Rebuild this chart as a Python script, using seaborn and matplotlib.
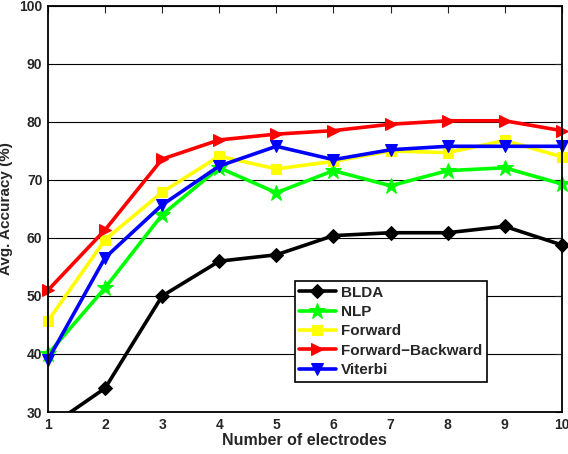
import numpy as np
import pandas as pd
import seaborn as sns
from matplotlib import pyplot as plt
from matplotlib.patches import Rectangle

sns.set_style('white')
plt.rcParams['font.family'] = ['Liberation Sans', 'DejaVu Sans']
plt.rcParams['font.weight'] = 'bold'

# data
electrodes = [1, 2, 3, 4, 5, 6, 7, 8, 9, 10]
blda = [27.3, 34.1, 50.0, 56.0, 57.1, 60.4, 60.9, 60.9, 62.0, 58.8]
nlp = [40.0, 51.4, 64.0, 72.1, 67.8, 71.6, 69.0, 71.6, 72.1, 69.3]
forward = [45.7, 59.7, 67.9, 74.1, 71.9, 73.2, 75.0, 74.7, 76.8, 74.0]
fwd_bwd = [51.0, 61.4, 73.6, 76.9, 77.9, 78.5, 79.6, 80.2, 80.2, 78.5]
viterbi = [39.0, 56.6, 65.7, 72.4, 75.8, 73.5, 75.2, 75.8, 75.8, 75.8]

names = ['BLDA', 'NLP', 'Forward', 'Forward\u2212Backward', 'Viterbi']
series = [blda, nlp, forward, fwd_bwd, viterbi]
colors = ['black', '#00ff00', '#ffff00', '#ff0000', '#0000ff']
markers = ['D', '*', 's', '>', 'v']
msizes = [7, 12, 7, 9, 9]

fig = plt.figure(figsize=(5.68, 4.54), dpi=100)
ax = fig.add_axes([0.0845, 0.0925, 0.9045, 0.8945])

clip = Rectangle((-0.05, 0.0), 1.1, 1.05, transform=ax.transAxes, fill=False, visible=False)
ax.add_patch(clip)

for name, vals, c, m, ms in zip(names, series, colors, markers, msizes):
    df = pd.DataFrame({'x': electrodes, 'y': vals})
    sns.lineplot(data=df, x='x', y='y', ax=ax, color=c, marker=m, markersize=ms,
                 markeredgecolor=c, linewidth=2.6, label=name)
    ax.lines[-1].set_clip_path(clip)

ax.set_xlim(1, 10)
ax.set_ylim(30, 100)
ax.set_xticks(electrodes)
ax.set_yticks(np.arange(30, 101, 10))
ax.yaxis.grid(True, color='black', linewidth=0.8)
ax.tick_params(direction='in', top=True, right=True, length=5, labelsize=10, pad=4)
for s in ax.spines.values():
    s.set_color('black')
    s.set_linewidth(1.3)

ax.set_xlabel('Number of electrodes', fontsize=11.5, fontweight='bold', labelpad=1)
ax.set_ylabel('Avg. Accuracy (%)', fontsize=11, fontweight='bold')
ax.yaxis.set_label_coords(-0.068, 0.5)

leg = ax.legend(loc='lower left', bbox_to_anchor=(0.465, 0.056), fontsize=11,
                fancybox=False, framealpha=1, edgecolor='black', borderpad=0.3,
                handlelength=2.4, labelspacing=0.35, handletextpad=0.35)
leg.get_frame().set_linewidth(1.2)

fig.savefig('out.png', dpi=100)
